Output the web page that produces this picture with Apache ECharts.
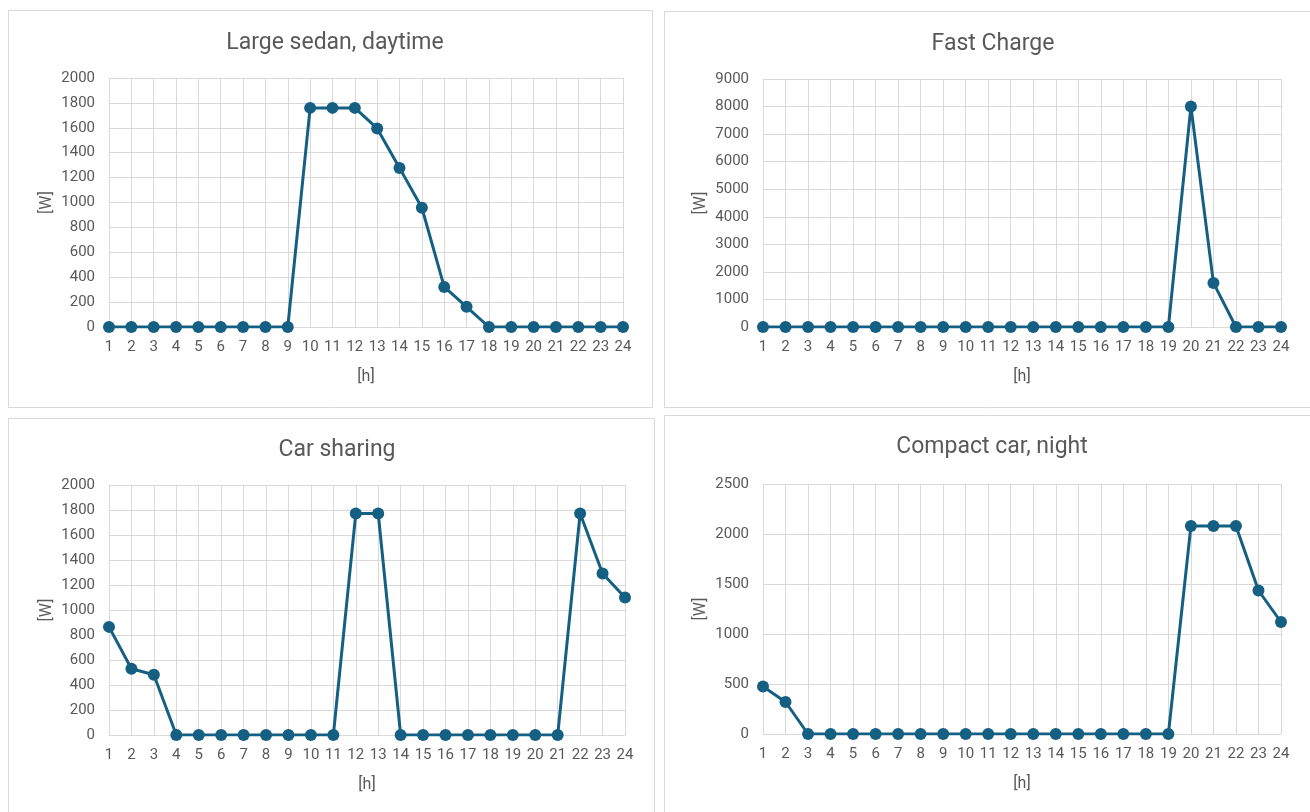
<!DOCTYPE html>
<html>
<head>
<meta charset="utf-8">
<script src="https://cdn.jsdelivr.net/npm/echarts@6/dist/echarts.min.js"></script>
<style>
html,body{margin:0;padding:0;background:#fff;}
#c{width:1310px;height:812px;}
</style>
</head>
<body>
<div id="c"></div>
<script>
const hours = ['1','2','3','4','5','6','7','8','9','10','11','12','13','14','15','16','17','18','19','20','21','22','23','24'];
const titles = ['Large sedan, daytime', 'Fast Charge', 'Car sharing', 'Compact car, night'];
const largeSedan = [0,0,0,0,0,0,0,0,0,1760,1760,1760,1595,1278,958,322,162,0,0,0,0,0,0,0];
const fastCharge = [0,0,0,0,0,0,0,0,0,0,0,0,0,0,0,0,0,0,0,8000,1600,0,0,0];
const carSharing = [865,530,482,0,0,0,0,0,0,0,0,1772,1772,0,0,0,0,0,0,0,0,1772,1292,1100];
const compactCar = [475,320,0,0,0,0,0,0,0,0,0,0,0,0,0,0,0,0,0,2080,2080,2080,1435,1120];
const yMax = [2000, 9000, 2000, 2500];
const yStep = [200, 1000, 200, 500];
const seriesData = [largeSedan, fastCharge, carSharing, compactCar];

const FONT = 'Roboto, sans-serif';
const TXT = '#595959';
const GRIDC = '#d9d9d9';
const LINE = '#156082';

const grids = [
  {left:109, top:78, width:514, height:249},
  {left:763, top:79, width:518, height:248},
  {left:109, top:485, width:516, height:250},
  {left:763, top:484, width:518, height:250}
];
const titlePos = [
  {x:330, y:38}, {x:988, y:39}, {x:332, y:445}, {x:987, y:442}
];
const panels = [
  {x:8.5, y:10.5, w:644, h:397},
  {x:664.5, y:11.5, w:650, h:396},
  {x:8.5, y:418.5, w:646, h:400},
  {x:664.5, y:415.5, w:650, h:403}
];

const option = {
  backgroundColor:'#fff',
  animation:false,
  title: titles.map((t,i)=>({
    text:t, left:titlePos[i].x, top:titlePos[i].y, textAlign:'center', textVerticalAlign:'middle',
    textStyle:{fontFamily:FONT, fontSize:23, fontWeight:'normal', color:TXT}
  })),
  graphic: panels.map(p=>({
    type:'rect', shape:{x:p.x, y:p.y, width:p.w, height:p.h}, z:-10,
    style:{fill:'#fff', stroke:'#d9d9d9', lineWidth:1}
  })),
  grid: grids,
  xAxis: grids.map((g,i)=>({
    type:'category', gridIndex:i, data:hours, boundaryGap:false,
    name:'[h]', nameLocation:'middle', nameGap:42,
    nameTextStyle:{fontFamily:FONT, fontSize:16, color:TXT},
    axisLine:{show:true, lineStyle:{color:GRIDC, width:1}},
    axisTick:{show:false},
    axisLabel:{interval:0, fontFamily:FONT, fontSize:15, color:TXT, margin:13},
    splitLine:{show:true, interval:0, lineStyle:{color:GRIDC, width:1}}
  })),
  yAxis: grids.map((g,i)=>({
    type:'value', gridIndex:i, min:0, max:yMax[i], interval:yStep[i],
    name:'[W]', nameLocation:'middle', nameGap:54,
    nameTextStyle:{fontFamily:FONT, fontSize:16, color:TXT},
    axisLine:{show:false}, axisTick:{show:false},
    axisLabel:{fontFamily:FONT, fontSize:15, color:TXT, margin:14, formatter:v=>String(v)},
    splitLine:{show:true, lineStyle:{color:GRIDC, width:1}}
  })),
  series: seriesData.map((d,i)=>({
    type:'line', xAxisIndex:i, yAxisIndex:i, data:d,
    symbol:'circle', symbolSize:12,
    lineStyle:{color:LINE, width:3},
    itemStyle:{color:LINE},
    z:5
  }))
};
const chart = echarts.init(document.getElementById('c'), null, {renderer:'canvas'});
chart.setOption(option);
</script>
</body>
</html>
